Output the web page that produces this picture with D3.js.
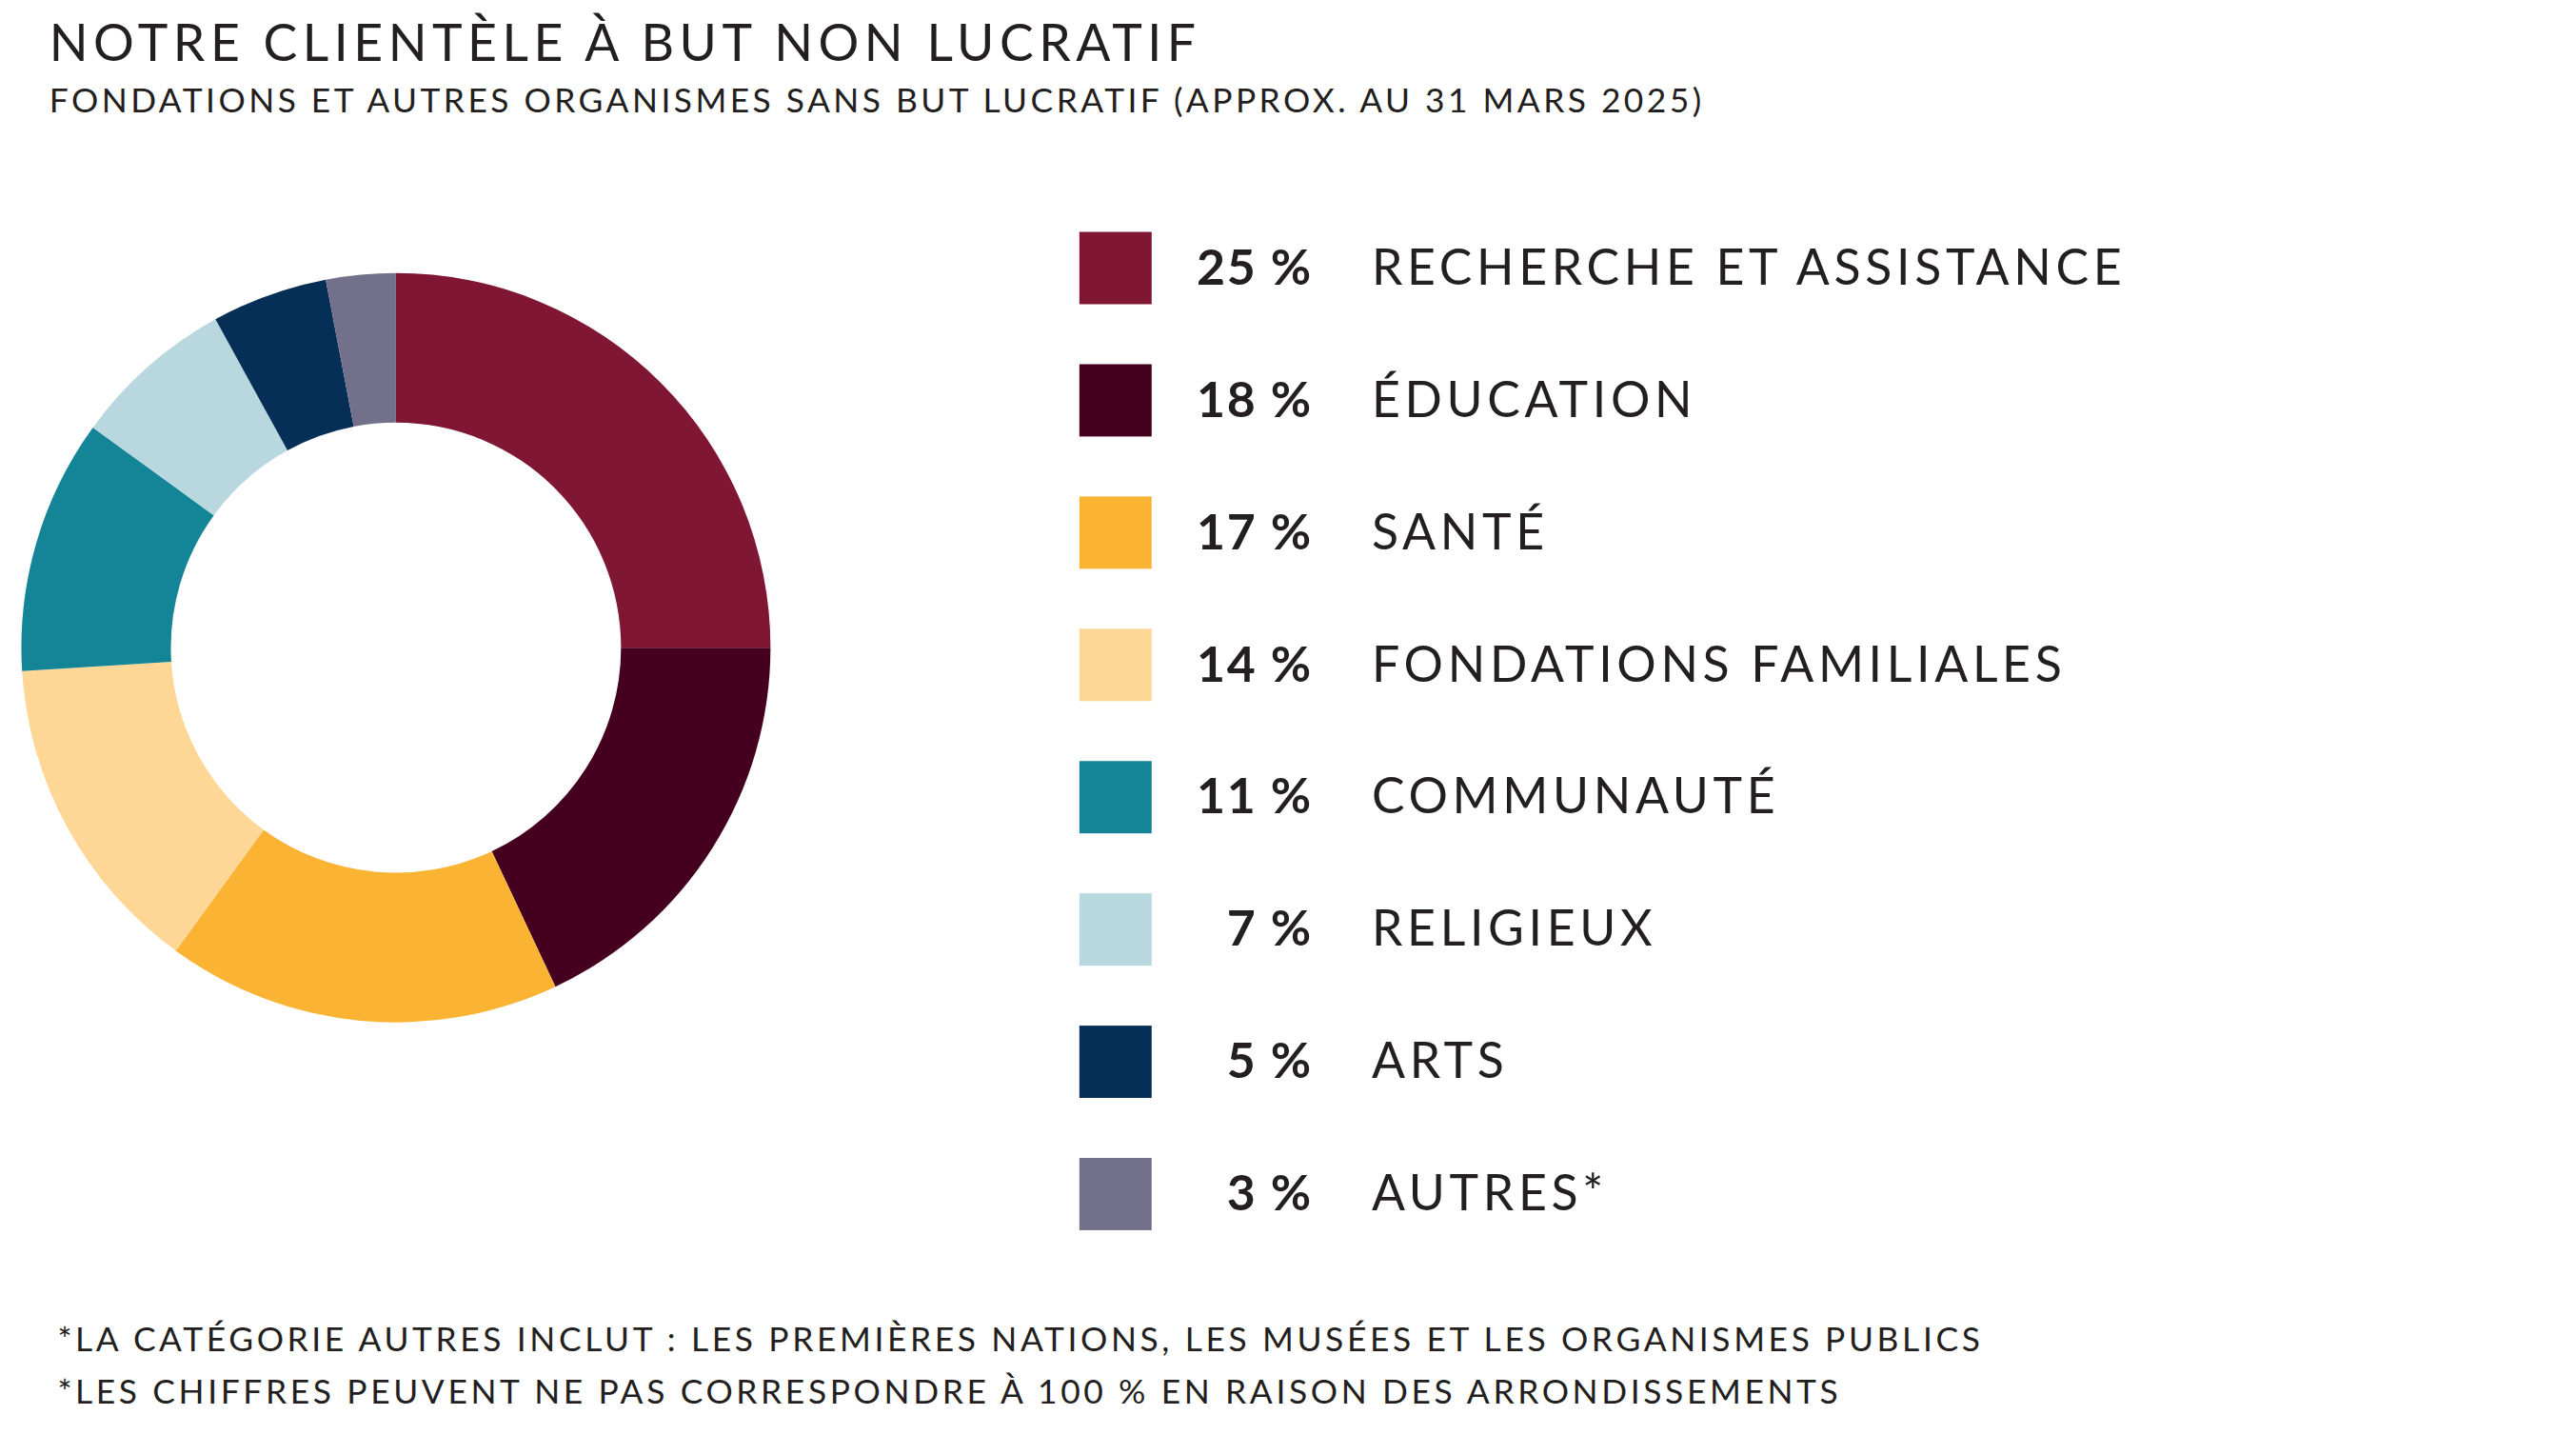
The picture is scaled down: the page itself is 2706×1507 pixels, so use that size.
<!DOCTYPE html>
<html><head><meta charset="utf-8">
<script src="https://cdn.jsdelivr.net/npm/d3@7"></script>
<style>body{margin:0;background:#fff}svg{display:block}</style>
</head><body>
<script>
// données
var categories = ["RECHERCHE ET ASSISTANCE", "ÉDUCATION", "SANTÉ", "FONDATIONS FAMILIALES", "COMMUNAUTÉ", "RELIGIEUX", "ARTS", "AUTRES*"];
var values = [25, 18, 17, 14, 11, 7, 5, 3];
var colors = ["#7F1734", "#450020", "#FBB334", "#FED797", "#148597", "#B9D7DF", "#062F57", "#72708B"];
var footnotes = ["*LA CATÉGORIE AUTRES INCLUT : LES PREMIÈRES NATIONS, LES MUSÉES ET LES ORGANISMES PUBLICS",
  "*LES CHIFFRES PEUVENT NE PAS CORRESPONDRE À 100 % EN RAISON DES ARRONDISSEMENTS"];

var W = 1568, H = 873;
var svg = d3.select("body").append("svg")
    .attr("width", 2706).attr("height", 1507)
    .attr("viewBox", "0 0 " + W + " " + H)
    .style("font-family", "Lato, 'Open Sans', sans-serif")
    .style("fill", "#231f20");

svg.append("text").attr("x", 30).attr("y", 37).attr("font-size", 31).attr("letter-spacing", 3.2).text("NOTRE CLIENTÈLE À BUT NON LUCRATIF");
svg.append("text").attr("x", 30).attr("y", 68).attr("font-size", 20.5).attr("letter-spacing", 2).text("FONDATIONS ET AUTRES ORGANISMES SANS BUT LUCRATIF (APPROX. AU 31 MARS 2025)");

// Donut
var pie = d3.pie().sort(null).value(d => d);
var arc = d3.arc().innerRadius(137).outerRadius(228);
var g = svg.append("g").attr("transform", "translate(241,394)");
g.selectAll("path").data(pie(values)).enter().append("path")
    .attr("d", arc)
    .attr("fill", (d, i) => colors[i]);

// Légende
var y = d3.scaleBand().domain(categories).range([141, 141 + 80.5 * 8]).paddingInner(0);
var leg = svg.append("g").selectAll("g").data(categories).enter().append("g")
    .attr("transform", d => "translate(0," + y(d) + ")");
leg.append("rect").attr("x", 657).attr("width", 44).attr("height", 44).attr("fill", (d, i) => colors[i]);
leg.append("text").attr("x", 799).attr("y", 32).attr("text-anchor", "end")
    .attr("font-size", 30).attr("font-weight", "bold").attr("letter-spacing", 1).text((d, i) => values[i] + " %");
leg.append("text").attr("x", 835).attr("y", 32).attr("font-size", 30).attr("letter-spacing", 2.7).text(d => d);

svg.append("g").selectAll("text").data(footnotes).enter().append("text")
    .attr("x", 35).attr("y", (d, i) => 822 + i * 32).attr("font-size", 20.5).attr("letter-spacing", 2.1).text(d => d);
</script>
</body></html>
